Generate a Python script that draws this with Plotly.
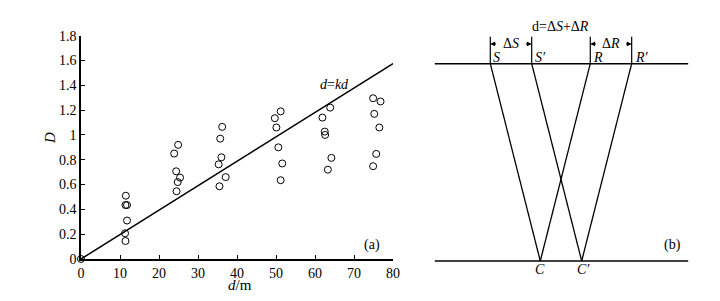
import plotly.graph_objects as go

W, H = 720, 301

# ---------- data panel (a) ----------
d_obs = [11.5, 11.4, 11.8, 11.8, 11.3, 11.4,
         24.9, 23.9, 24.4, 25.4, 24.8, 24.5,
         36.2, 35.7, 36.0, 35.3, 37.1, 35.5,
         51.2, 49.7, 50.1, 50.6, 51.6, 51.2,
         63.9, 61.9, 62.5, 62.6, 64.2, 63.3,
         74.9, 76.8, 75.2, 76.5, 75.7, 74.9,
         0.0]
D_obs = [0.51, 0.435, 0.435, 0.31, 0.207, 0.145,
         0.92, 0.85, 0.707, 0.656, 0.62, 0.546,
         1.065, 0.97, 0.82, 0.763, 0.66, 0.586,
         1.19, 1.135, 1.06, 0.90, 0.77, 0.635,
         1.22, 1.14, 1.027, 1.0, 0.815, 0.72,
         1.296, 1.27, 1.17, 1.06, 0.847, 0.748,
         0.0]
fit_d = [0, 80.3]
fit_D = [0, 1.58]
y_ticks = [0, 0.2, 0.4, 0.6, 0.8, 1.0, 1.2, 1.4, 1.6, 1.8]
y_ticktext = ["0", "0.2", "0.4", "0.6", "0.8", "1", "1.2", "1.4", "1.6", "1.8"]
x_ticks = [0, 10, 20, 30, 40, 50, 60, 70, 80]

# ---------- schematic panel (b) ----------
stations = {"S": 0.0, "S′": 1.0, "R": 2.415, "R′": 3.415}
surface_x = [-1.34, 4.78]
surface_z = 0.0
reflector_z = 1.0

FONT = "Liberation Serif"
fig = go.Figure()

fig.add_trace(go.Scatter(
    x=d_obs, y=D_obs, mode="markers",
    marker=dict(symbol="circle-open", size=7, color="black", line=dict(width=1, color="black")),
    cliponaxis=False, xaxis="x", yaxis="y", showlegend=False, hoverinfo="skip"))
fig.add_trace(go.Scatter(
    x=fit_d, y=fit_D, mode="lines", line=dict(color="black", width=1.5),
    cliponaxis=False, xaxis="x", yaxis="y", showlegend=False, hoverinfo="skip"))

C = (stations["S"] + stations["R"]) / 2
Cp = (stations["S′"] + stations["R′"]) / 2
lk = dict(color="black", width=1.5)
for z in (surface_z, reflector_z):
    fig.add_trace(go.Scatter(x=surface_x, y=[z, z], mode="lines", line=lk, cliponaxis=False,
                             xaxis="x2", yaxis="y2", showlegend=False, hoverinfo="skip"))
for s, c in (("S", C), ("R", C), ("S′", Cp), ("R′", Cp)):
    fig.add_trace(go.Scatter(x=[stations[s], c], y=[surface_z, reflector_z], mode="lines",
                             line=dict(color="black", width=1.3), cliponaxis=False,
                             xaxis="x2", yaxis="y2", showlegend=False, hoverinfo="skip"))
for s in stations:
    fig.add_trace(go.Scatter(x=[stations[s], stations[s]], y=[surface_z, -0.137], mode="lines",
                             line=dict(color="black", width=1.2), cliponaxis=False,
                             xaxis="x2", yaxis="y2", showlegend=False, hoverinfo="skip"))

ann = []
for a, b, lab in (("S", "S′", "Δ<i>S</i>"), ("R", "R′", "Δ<i>R</i>")):
    xa, xb = stations[a], stations[b]
    mid = (xa + xb) / 2
    ann.append(dict(x=mid, y=-0.1, xref="x2", yref="y2", text=lab, showarrow=False,
                    font=dict(family=FONT, size=14, color="black")))
    for tgt, src in ((xa, mid - 0.33), (xb, mid + 0.33)):
        ann.append(dict(x=tgt, y=-0.1, ax=src, ay=-0.1, xref="x2", yref="y2",
                        axref="x2", ayref="y2", text="", showarrow=True,
                        arrowhead=2, arrowsize=0.8, arrowwidth=1.2, arrowcolor="black"))
for s in stations:
    ann.append(dict(x=stations[s], y=surface_z, xref="x2", yref="y2", text=f"<i>{s}</i>",
                    showarrow=False, xanchor="left", yanchor="bottom", xshift=1, yshift=-3,
                    font=dict(family=FONT, size=14, color="black")))
ann.append(dict(x=C, y=reflector_z, xref="x2", yref="y2", text="<i>C</i>", showarrow=False,
                yanchor="top", yshift=1, font=dict(family=FONT, size=14, color="black")))
ann.append(dict(x=Cp, y=reflector_z, xref="x2", yref="y2", text="<i>C′</i>", showarrow=False,
                yanchor="top", yshift=1, xshift=2, font=dict(family=FONT, size=14, color="black")))
ann.append(dict(x=(stations["S′"] + stations["R"]) / 2, y=-0.186, xref="x2", yref="y2",
                text="d=Δ<i>S</i>+Δ<i>R</i>", showarrow=False,
                font=dict(family=FONT, size=14, color="black")))
ann.append(dict(x=4.41, y=0.92, xref="x2", yref="y2", text="(b)", showarrow=False,
                font=dict(family=FONT, size=14, color="black")))

ann.append(dict(x=65, y=1.41, xref="x", yref="y", text="<i>d</i>=<i>kd</i>", showarrow=False,
                font=dict(family=FONT, size=14, color="black")))
ann.append(dict(x=74.5, y=0.11, xref="x", yref="y", text="(a)", showarrow=False,
                font=dict(family=FONT, size=14, color="black")))
ann.append(dict(x=50 / W, y=1 - 138 / H, xref="paper", yref="paper", text="<i>D</i>",
                xanchor="center", yanchor="middle",
                showarrow=False, textangle=-90, font=dict(family=FONT, size=15, color="black")))
ann.append(dict(x=240 / W, y=1 - 285 / H, xref="paper", yref="paper", text="<i>d</i>/m",
                xanchor="center", yanchor="middle",
                showarrow=False, font=dict(family=FONT, size=15, color="black")))

fig.update_layout(
    template="none",
    width=W, height=H, margin=dict(l=0, r=0, t=0, b=0, pad=0, autoexpand=False),
    paper_bgcolor="white", plot_bgcolor="rgba(0,0,0,0)",
    font=dict(family=FONT, size=14, color="black"),
    xaxis=dict(domain=[81 / W, 393 / W], range=[0, 80], tickvals=x_ticks, automargin=False,
               showline=True, linecolor="black", linewidth=1.5, ticks="inside",
               ticklen=4, tickwidth=1.2, tickcolor="black", showgrid=False, zeroline=False,
               tickfont=dict(family=FONT, size=14, color="black"), anchor="y"),
    yaxis=dict(domain=[1 - 259 / H, 1 - 35.7 / H], range=[0, 1.8], tickvals=y_ticks,
               automargin=False,
               ticktext=y_ticktext, showline=True, linecolor="black", linewidth=1.5,
               ticks="inside", ticklen=4, tickwidth=1.2, tickcolor="black", showgrid=False,
               zeroline=False, tickfont=dict(family=FONT, size=14, color="black"), anchor="x"),
    xaxis2=dict(domain=[428.2 / W, 718 / W], range=[-1.5, 5.5], visible=False, anchor="y2",
                automargin=False),
    yaxis2=dict(domain=[1 - 280.7 / H, 1 - 24.2 / H], range=[1.1, -0.2], visible=False,
                anchor="x2", automargin=False),
    annotations=ann,
)

fig.write_html("out.html", config={"displayModeBar": False},
               post_script="document.body.style.margin='0';document.body.style.overflow='hidden';")
